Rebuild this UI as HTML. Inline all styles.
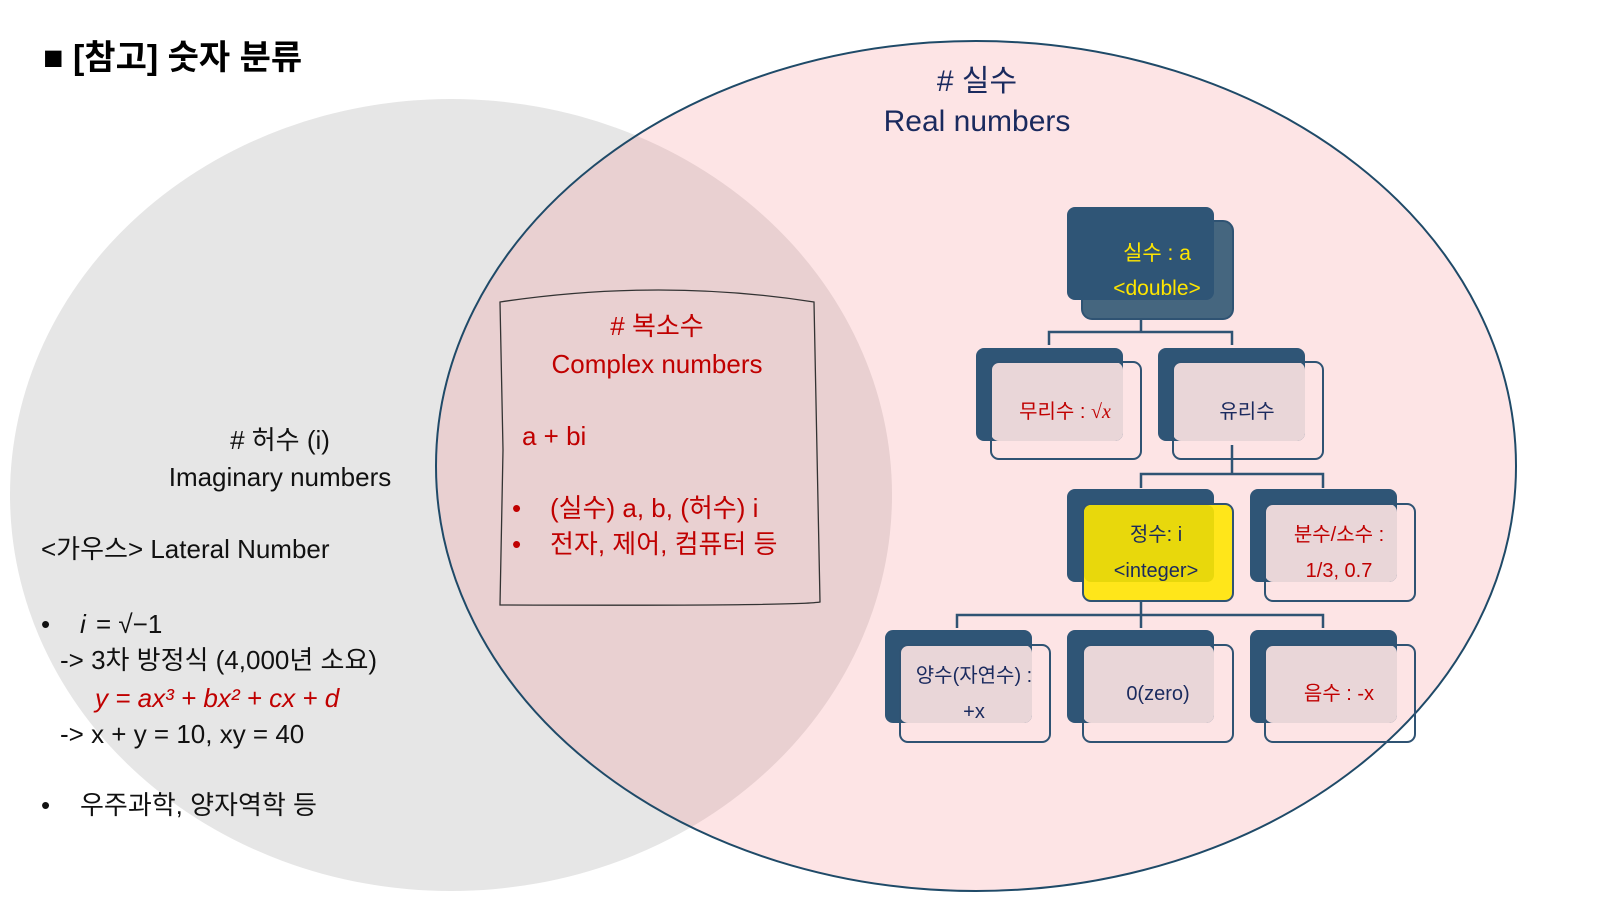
<!DOCTYPE html>
<html><head><meta charset="utf-8"><style>
html,body{margin:0;padding:0;background:#fff;}
svg{display:block;}
text{font-family:"Liberation Sans","Noto Sans CJK KR",sans-serif;}
</style></head><body>
<svg width="1600" height="900" viewBox="0 0 1600 900" xmlns="http://www.w3.org/2000/svg">
<ellipse cx="451" cy="495" rx="441" ry="396" fill="#e6e6e6"/>
<ellipse cx="976" cy="466" rx="540" ry="425" fill="rgba(245,120,125,0.2)" stroke="#1f4a68" stroke-width="2"/>
<text x="43" y="69" font-size="34" font-weight="bold" fill="#000">■ [참고] 숫자 분류</text>
<text x="977" y="91" font-size="30" fill="#1a2a5e" text-anchor="middle"># 실수</text>
<text x="977" y="131" font-size="30" fill="#1a2a5e" text-anchor="middle">Real numbers</text>
<!-- complex box -->
<path d="M500,302 Q660,278 814,302 L820,602 Q800,606 500,605 L503,450 Z" fill="none" stroke="#333" stroke-width="1.3"/>
<g fill="#c00000" font-size="26">
<text x="657" y="335" text-anchor="middle"># 복소수</text>
<text x="657" y="373" text-anchor="middle">Complex numbers</text>
<text x="522" y="445">a + bi</text>
<text x="512" y="517">•</text><text x="550" y="517">(실수) a, b, (허수) i</text>
<text x="512" y="553">•</text><text x="550" y="553">전자, 제어, 컴퓨터 등</text>
</g>
<!-- left text -->
<g fill="#111" font-size="26">
<text x="280" y="449" text-anchor="middle"># 허수 (i)</text>
<text x="280" y="486" text-anchor="middle">Imaginary numbers</text>
<text x="41" y="558">&lt;가우스&gt; Lateral Number</text>
<text x="41" y="633">•</text>
<text x="80" y="633" font-family="Liberation Serif,serif" font-style="italic">i</text>
<text x="96" y="633" font-family="Liberation Serif,serif">= √−1</text>
<text x="60" y="669">-&gt; 3차 방정식 (4,000년 소요)</text>
<text x="95" y="707" fill="#c00000" font-family="Liberation Serif,serif" font-style="italic">y = ax³ + bx² + cx + d</text>
<text x="60" y="743">-&gt; x + y = 10, xy = 40</text>
<text x="41" y="814">•</text><text x="80" y="814">우주과학, 양자역학 등</text>
</g>
<!-- connectors -->
<g stroke="#2f5373" stroke-width="2.5" fill="none">
<path d="M1141,300 V332 M1049,345 V332 H1232 V345"/>
<path d="M1232,445 V474 M1141,488 V474 H1323 V488"/>
<path d="M1141,601 V615 M957,628 V615 H1323 V628 M1141,615 V628"/>
</g>
<!-- root -->
<rect x="1082" y="221" width="151" height="98" rx="10" fill="#45667f" stroke="#2f5373" stroke-width="2"/>
<rect x="1067" y="207" width="147" height="93" rx="8" fill="#2f5576"/>
<text x="1157" y="260" font-size="21" fill="#ffe600" text-anchor="middle">실수 : a</text>
<text x="1157" y="295" font-size="21" fill="#ffe600" text-anchor="middle">&lt;double&gt;</text>
<!-- generic nodes -->
<g>
<!-- 무리수 -->
<rect x="976" y="348" width="147" height="93" rx="8" fill="#2f5576"/>
<rect x="991" y="362" width="132" height="79" rx="8" fill="#e9d6d8"/>
<rect x="991" y="362" width="150" height="97" rx="8" fill="none" stroke="#2f5373" stroke-width="2"/>
<!-- 유리수 -->
<rect x="1158" y="348" width="147" height="93" rx="8" fill="#2f5576"/>
<rect x="1173" y="362" width="132" height="79" rx="8" fill="#e9d6d8"/>
<rect x="1173" y="362" width="150" height="97" rx="8" fill="none" stroke="#2f5373" stroke-width="2"/>
<!-- 정수 -->
<rect x="1067" y="489" width="147" height="93" rx="8" fill="#2f5576"/>
<rect x="1083" y="504" width="150" height="97" rx="8" fill="#ffe61a" stroke="#2f5373" stroke-width="2"/>
<rect x="1084" y="505" width="130" height="77" rx="7" fill="#e8d80c"/>
<!-- 분수 -->
<rect x="1250" y="489" width="147" height="93" rx="8" fill="#2f5576"/>
<rect x="1265" y="504" width="132" height="78" rx="8" fill="#e9d6d8"/>
<rect x="1265" y="504" width="150" height="97" rx="8" fill="none" stroke="#2f5373" stroke-width="2"/>
<!-- 양수 -->
<rect x="885" y="630" width="147" height="93" rx="8" fill="#2f5576"/>
<rect x="900" y="645" width="132" height="78" rx="8" fill="#e9d6d8"/>
<rect x="900" y="645" width="150" height="97" rx="8" fill="none" stroke="#2f5373" stroke-width="2"/>
<!-- 0 -->
<rect x="1067" y="630" width="147" height="93" rx="8" fill="#2f5576"/>
<rect x="1083" y="645" width="131" height="78" rx="8" fill="#e9d6d8"/>
<rect x="1083" y="645" width="150" height="97" rx="8" fill="none" stroke="#2f5373" stroke-width="2"/>
<!-- 음수 -->
<rect x="1250" y="630" width="147" height="93" rx="8" fill="#2f5576"/>
<rect x="1265" y="645" width="132" height="78" rx="8" fill="#e9d6d8"/>
<rect x="1265" y="645" width="150" height="97" rx="8" fill="none" stroke="#2f5373" stroke-width="2"/>
</g>
<g font-size="20" text-anchor="middle">
<text x="1065" y="418" fill="#c00000">무리수 : <tspan font-family="Liberation Serif,serif" font-style="italic">√x</tspan></text>
<text x="1247" y="418" fill="#1a2a5e">유리수</text>
<text x="1156" y="541" fill="#1a2a5e">정수: i</text>
<text x="1156" y="577" fill="#1a2a5e">&lt;integer&gt;</text>
<text x="1339" y="541" fill="#c00000">분수/소수 :</text>
<text x="1339" y="577" fill="#c00000">1/3, 0.7</text>
<text x="974" y="682" fill="#1a2a5e">양수(자연수) :</text>
<text x="974" y="718" fill="#1a2a5e">+x</text>
<text x="1158" y="700" fill="#1a2a5e">0(zero)</text>
<text x="1339" y="700" fill="#c00000">음수 : -x</text>
</g>
</svg>
</body></html>
